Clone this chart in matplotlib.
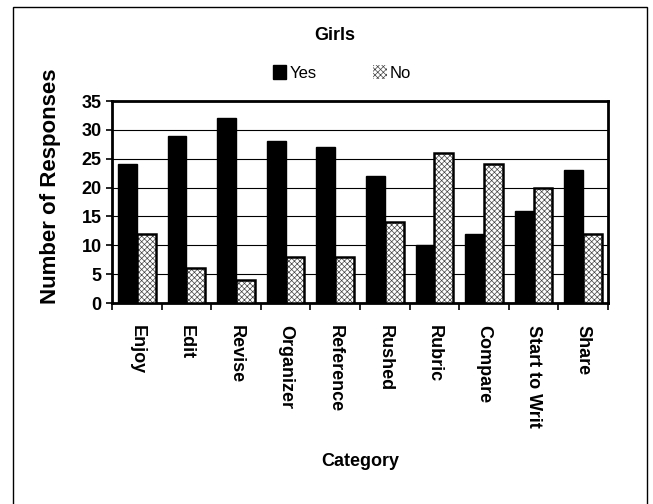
import numpy as np
import matplotlib
matplotlib.use('Agg')
from matplotlib import pyplot as plt
from matplotlib.patches import Rectangle, Patch

categories = ['Enjoy', 'Edit', 'Revise', 'Organizer', 'Reference', 'Rushed',
              'Rubric', 'Compare', 'Start to Writ', 'Share']
yes_vals = [24, 29, 32, 28, 27, 22, 10, 12, 16, 23]
no_vals = [12, 6, 4, 8, 8, 14, 26, 24, 20, 12]

plt.rcParams['font.family'] = ['Liberation Sans', 'DejaVu Sans']
plt.rcParams['hatch.linewidth'] = 0.5

fig = plt.figure(figsize=(6.53, 5.04), dpi=100)
ax = fig.add_axes([112/653, 1 - 303/504, (608-112)/653, (303-101)/504])

x = np.arange(len(categories))
w = 0.38
ax.bar(x - w/2, yes_vals, w, color='black', edgecolor='black', zorder=3)
# stippled bars: hatch first, black outline on top
ax.bar(x + w/2, no_vals, w, color='white', edgecolor='#444444', hatch='xxxxxx',
       linewidth=0, zorder=3)
ax.bar(x + w/2, no_vals, w, fill=False, edgecolor='black', linewidth=1.8, zorder=4)

ax.set_ylim(0, 35)
ax.set_xlim(-0.5, len(categories) - 0.5)
ax.set_yticks(range(0, 36, 5))
ax.yaxis.grid(True, color='black', linewidth=0.8, zorder=0)
ax.set_xticks(np.arange(len(categories) + 1) - 0.5, minor=True)
ax.set_xticks(x)
ax.set_xticklabels(categories, rotation=-90, fontsize=13, fontweight='bold')
ax.tick_params(axis='x', which='major', length=0, pad=16)
ax.tick_params(axis='x', which='minor', length=5, width=1.2, direction='out')
ax.tick_params(axis='y', labelsize=13, width=1.2, length=4)
for lab in ax.get_yticklabels():
    lab.set_fontweight('bold')
for s in ax.spines.values():
    s.set_linewidth(2)

ax.set_ylabel('Number of Responses', fontsize=16, fontweight='bold', va='center')
ax.yaxis.set_label_coords(-0.123, 0.58)
ax.set_xlabel('Category', fontsize=13, fontweight='bold', labelpad=18)

fig.text(0.513, 1 - 35/504, 'Girls', ha='center', va='center', fontsize=13, fontweight='bold')
handles = [Patch(facecolor='black', edgecolor='black'),
           Patch(facecolor='white', edgecolor='#444444', hatch='xxxxxx', linewidth=0)]
fig.legend(handles, ['Yes', 'No'], loc='center', bbox_to_anchor=(0.524, 1 - 73/504),
           ncol=2, frameon=False, fontsize=12, handlelength=0.8, handleheight=0.9,
           columnspacing=3.4, handletextpad=0.2)

fig.patches.append(Rectangle((13/653, -0.02), (647-13)/653, 1.02 - 7/504,
                             transform=fig.transFigure, fill=False,
                             edgecolor='black', linewidth=1))

plt.savefig('out.png', dpi=100)
